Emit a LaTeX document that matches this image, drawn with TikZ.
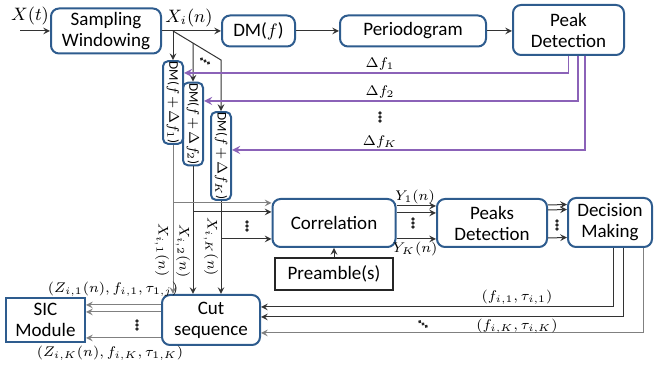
\documentclass[tikz,border=0pt]{standalone}
\usepackage{amsmath}
\usepackage{fontspec}
\setmainfont{Carlito}
\usepackage{tikz}
\usetikzlibrary{arrows, calc}
\definecolor{boxblue}{HTML}{2E5C8E}
\definecolor{fbpurple}{HTML}{8B62B8}
\tikzstyle{arrow}  = [->,>=stealth,line width=0.5pt,draw=black!80]
\tikzstyle{garrow} = [arrow,draw=gray]
\tikzstyle{parrow} = [->,>=stealth,line width=0.8pt,draw=fbpurple]
\tikzset{every node/.style={align=center}}
% three dots at a point, turned by an angle
\newcommand{\dotrow}[2]{\fill[black!85, shift={#1}, rotate=#2] (-4,0) circle (0.9pt) (0,0) circle (0.9pt) (4,0) circle (0.9pt);}
% rotated label of a shifted DM block
\newcommand{\dmtext}[1]{\rotatebox{-90}{DM($\medmuskip=2mu f+\Delta f_{#1}$)}}

\begin{document}
\begin{tikzpicture}[x=0.5pt, y=-0.5pt,
    blk/.style={draw=boxblue, line width=1pt, rounded corners=4pt, inner sep=1pt,
                font=\fontsize{9.5}{10.5}\selectfont},
    sqblk/.style={blk, rounded corners=0pt},
    dmblk/.style={blk, rounded corners=2.5pt, inner xsep=0.8pt, inner ysep=0.3pt,
                  minimum width=10pt, minimum height=40.5pt, font=\fontsize{6.6}{8}\selectfont},
    lbl/.style={inner sep=0pt, font=\fontsize{7.5}{8.5}\selectfont}
]
  \useasboundingbox (0,0) rectangle (655,367);

  % --- top row ---
  \node[blk, minimum width=55pt,   minimum height=22.5pt] (samp)  at (106,31)   {Sampling\\Windowing};
  \node[blk, minimum width=36.5pt, minimum height=15.5pt] (dm)    at (258.5,31) {DM($f$)};
  \node[blk, minimum width=73pt,   minimum height=15.5pt] (perio) at (413,31)   {Periodogram};
  \node[blk, minimum width=55.5pt, minimum height=25pt]   (peak)  at (568.5,30) {Peak\\Detection};

  \coordinate (in) at (20,31);
  \node[lbl, font=\fontsize{9}{10}\selectfont] (xt) at (30,16) {$X(t)$};
  \draw[arrow] (in) -- (samp.west);
  \draw[arrow] (samp.east) -- (dm.west);
  \node[lbl, font=\fontsize{9}{10}\selectfont] (xi) at (189,18) {$X_i(n)$};
  \draw[arrow] (dm.east) -- (perio.west);
  \draw[arrow] (perio.east) -- (peak.west |- perio.east);

  % --- shifted DM blocks ---
  \node[dmblk] (dm1) at (173,102.5) {\dmtext{1}};
  \node[dmblk] (dm2) at (193,124)   {\dmtext{2}};
  \node[dmblk] (dmK) at (221,156)   {\dmtext{K}};

  \coordinate (sp) at (173,31);
  \coordinate (bk) at (221,60);
  \draw[arrow] (sp) -- (dm1.north);
  \draw[arrow] (sp) -- (bk) -- (dmK.north);
  \path (sp) -- (bk) coordinate[pos=0.4167] (b2);
  \draw[arrow] (b2) -- (dm2.north);
  \dotrow{(205,61)}{-30}

  % --- frequency offsets fed back ---
  \coordinate (f1) at (dm1.east |- 0,73);
  \coordinate (f2) at (dm2.east |- 0,101);
  \coordinate (fK) at (dmK.east |- 0,150);
  \draw[parrow] (peak.south) |- (f1);
  \draw[parrow] ($(peak.south)+(9.5,0)$) |- (f2);
  \draw[parrow] ($(peak.south)+(16.5,0)$) |- (fK);
  \node[lbl] (df1) at (380,64)  {$\Delta f_1$};
  \node[lbl] (df2) at (380,92)  {$\Delta f_2$};
  \node[lbl] (dfK) at (380,142) {$\Delta f_K$};
  \dotrow{(380,117)}{90}

  % --- bottom row ---
  \node[blk, minimum width=61.5pt, minimum height=24pt] (corr)  at (334,223) {Correlation};
  \node[draw=black!85, line width=0.9pt, minimum width=59pt, minimum height=16pt,
        inner sep=1pt, font=\fontsize{9.5}{10.5}\selectfont] (pre) at (334,274) {Preamble(s)};
  \node[blk, minimum width=55pt, minimum height=24pt]   (peaks) at (492,223) {Peaks\\Detection};
  \node[blk, minimum width=42pt, minimum height=24.5pt] (dec)   at (610,222.5) {Decision\\Making};
  \node[blk, minimum width=49pt, minimum height=25pt]   (cut)   at (211,320) {Cut\\sequence};
  \node[sqblk, minimum width=39.5pt, minimum height=22pt] (sic) at (45.5,320) {SIC\\Module};

  % DM outputs to correlation and cut
  \coordinate (c1) at ($(corr.west)+(0,-20)$);
  \coordinate (c2) at ($(corr.west)+(0,-11)$);
  \coordinate (cK) at ($(corr.west)+(0,16)$);
  \draw[garrow] (dm1.south) -- (dm1.south |- cut.north);
  \draw[arrow]  (dm2.south) -- (dm2.south |- cut.north);
  \draw[arrow]  (dmK.south) -- (dmK.south |- cut.north);
  \draw[garrow] (dm1.south |- c1) -- (c1);
  \draw[arrow]  (dm2.south |- c2) -- (c2);
  \draw[arrow]  (dmK.south |- cK) -- (cK);
  \dotrow{(247,226)}{90}
  \node[lbl, rotate=-90] (x1) at (162,250) {$X_{i,1}(n)$};
  \node[lbl, rotate=-90] (x2) at (183,251) {$X_{i,2}(n)$};
  \node[lbl, rotate=-90] (xK) at (211,247) {$X_{i,K}(n)$};

  % correlation -> peaks -> decision
  \foreach \dy in {-17,-10,16}
    \draw[arrow] ($(corr.east)+(0,\dy)$) -- ($(peaks.west)+(0,\dy)$);
  \node[lbl] (y1) at (415,197) {$Y_1(n)$};
  \node[lbl] (yK) at (415,249) {$Y_K(n)$};
  \dotrow{(413,223)}{90}
  \foreach \dy in {-18,-13,15}
    \draw[arrow] ($(peaks.east)+(0,\dy)$) -- ($(dec.west)+(0,\dy)$);
  \dotrow{(557,225)}{90}
  \draw[arrow] (pre.north) -- (corr.south);

  % decision back to cut
  \draw[arrow]  ($(dec.south)+(3,0)$)  |- ($(cut.east)+(0,-13)$);
  \draw[arrow]  ($(dec.south)+(13,0)$) |- ($(cut.east)+(0,-3)$);
  \draw[garrow] ($(dec.south)+(33,0)$) |- ($(cut.east)+(0,13)$);
  \node[lbl] (fi1) at (517,297) {$(f_{i,1},\tau_{i,1})$};
  \node[lbl] (fiK) at (517,326) {$(f_{i,K},\tau_{i,K})$};
  \dotrow{(423,324)}{-35}

  % cut -> SIC
  \foreach \dy in {-15,-8,18}
    \draw[garrow] ($(cut.west)+(0,\dy)$) -- ($(sic.east)+(0,\dy)$);
  \dotrow{(137,325)}{90}
  \node[lbl] (z1) at (113,289) {$(Z_{i,1}(n),f_{i,1},\tau_{1,j})$};
  \node[lbl] (zK) at (110,353) {$(Z_{i,K}(n),f_{i,K},\tau_{1,K})$};
\end{tikzpicture}
\end{document}
